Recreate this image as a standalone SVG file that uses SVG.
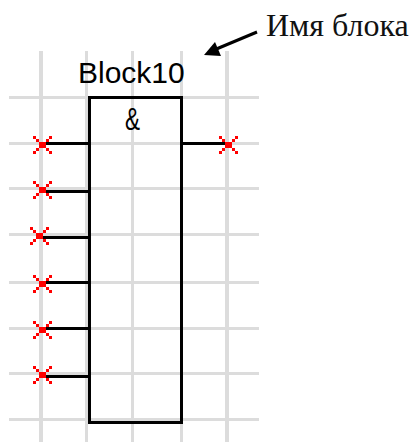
<svg xmlns="http://www.w3.org/2000/svg" width="412" height="442" viewBox="0 0 412 442">
<style>
.grid{stroke:#dcdcdc;fill:none}
.wire{stroke:#000;stroke-width:3;fill:none}
.body{stroke:#000;stroke-width:3;fill:none}
.pin{fill:#f00}
.sans{font-family:"Liberation Sans",Arial,sans-serif;font-size:30px;fill:#000}
.note{font-family:"Liberation Serif","Times New Roman",serif;font-size:32px;fill:#111}
</style>
<defs>
<path id="x" class="pin" d="M0 0h3v3h-3zM16 0h3v3h-3zM3 3h3v3h-3zM13 3h3v3h-3zM6 6h7v6h-7zM3 12h3v3h-3zM13 12h3v3h-3zM0 15h3v3h-3zM16 15h3v3h-3z"/>
</defs>
<g id="grid" class="grid">
<path stroke-width="4" d="M41 51V442M227 51V442"/>
<path stroke-width="3" d="M86.5 51V442M132.5 51V442M181.5 51V442"/>
<path stroke-width="3" d="M9 97.5H259M9 143.5H259M9 188.5H259M9 234.5H259M9 282.5H259M9 328.5H259M9 373.5H259M9 419.5H259"/>
</g>
<g id="connectors">
<path class="wire" d="M43 143.5H89M43 191.5H89M39 237.5H89M43 282.5H89M43 328.5H89M43 376.5H89M183 143.5H229"/>
<path d="M257 32L214 50" stroke="#000" stroke-width="3" fill="none"/>
<path d="M204 55L215 42L221 56Z" fill="#000"/>
</g>
<g id="block">
<rect class="body" x="89.5" y="97.5" width="92" height="325"/>
<text class="sans" x="78" y="83">Block10</text>
<text class="sans" x="125" y="130" font-size="32" style="font-size:32px" textLength="15" lengthAdjust="spacingAndGlyphs">&amp;</text>
</g>
<g id="pins">
<use href="#x" x="33" y="136"/>
<use href="#x" x="33" y="181"/>
<use href="#x" x="30" y="227"/>
<use href="#x" x="33" y="275"/>
<use href="#x" x="33" y="321"/>
<use href="#x" x="33" y="366"/>
<use href="#x" x="219" y="136"/>
</g>
<g id="label">
<text class="note" x="266" y="36">Имя блока</text>
</g>
</svg>
